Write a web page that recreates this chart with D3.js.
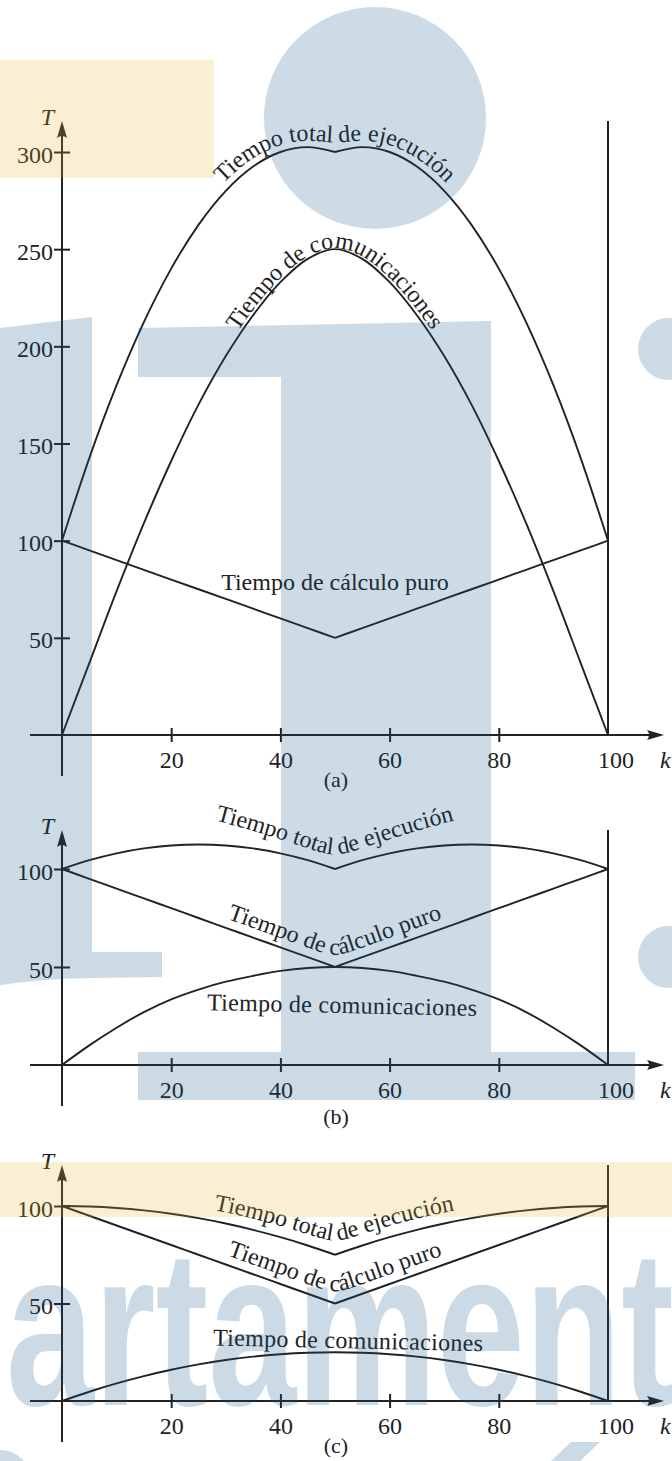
<!DOCTYPE html>
<html>
<head>
<meta charset="utf-8">
<script src="https://cdn.jsdelivr.net/npm/d3@7"></script>
<style>
  body { margin: 0; background: #fff; }
  svg { display: block; }
</style>
</head>
<body>
<div id="chart"></div>
<script>
var kValues = [0, 5, 10, 15, 20, 25, 30, 35, 40, 45, 50, 55, 60, 65, 70, 75, 80, 85, 90, 95, 100];

var calcA  = [100, 95, 90, 85, 80, 75, 70, 65, 60, 55, 50, 55, 60, 65, 70, 75, 80, 85, 90, 95, 100];
var commA  = [0, 37, 74, 109, 141, 170, 195, 216, 233, 245, 250, 245, 233, 216, 195, 170, 141, 109, 74, 37, 0];
var totalA = [100, 142.5, 180, 212.5, 240, 262.5, 280, 292.5, 300, 302.5, 300, 302.5, 300, 292.5, 280, 262.5, 240, 212.5, 180, 142.5, 100];

var calcB  = [100, 95, 90, 85, 80, 75, 70, 65, 60, 55, 50, 55, 60, 65, 70, 75, 80, 85, 90, 95, 100];
var commB  = [0, 10, 19, 27, 33.5, 38.5, 42.5, 45.5, 48, 49.5, 50, 49.5, 48, 45.5, 42.5, 38.5, 33.5, 27, 19, 10, 0];
var totalB = [100, 104.5, 108, 110.5, 112, 112.5, 112, 110.5, 108, 104.5, 100, 104.5, 108, 110.5, 112, 112.5, 112, 110.5, 108, 104.5, 100];

var calcC  = [100, 95, 90, 85, 80, 75, 70, 65, 60, 55, 50, 55, 60, 65, 70, 75, 80, 85, 90, 95, 100];
var commC  = [0, 4.75, 9, 12.75, 16, 18.75, 21, 22.75, 24, 24.75, 25, 24.75, 24, 22.75, 21, 18.75, 16, 12.75, 9, 4.75, 0];
var totalC = [100, 99.75, 99, 97.75, 96, 93.75, 91, 87.75, 84, 79.75, 75, 79.75, 84, 87.75, 91, 93.75, 96, 97.75, 99, 99.75, 100];

var yTicksA = [50, 100, 150, 200, 250, 300];
var yTicksB = [50, 100];
var yTicksC = [50, 100];
var xTicks = [20, 40, 60, 80];
var xLast = 100;

var labelTotal = "Tiempo total de ejecución";
var labelComm = "Tiempo de comunicaciones";
var labelCalc = "Tiempo de cálculo puro";

var width = 672, height = 1461;
var ink = "#222";
var serif = "'Liberation Serif', 'Times New Roman', serif";

var svg = d3.select("#chart").append("svg")
    .attr("width", width)
    .attr("height", height);
var defs = svg.append("defs");

var x = d3.scaleLinear().domain([0, 100]).range([62, 608]);

var panels = [
    {id: "a", calc: calcA, comm: commA, total: totalA, yMax: 300, range: [735, 152], top: 121, ticks: yTicksA, caption: "(a)", capY: 787},
    {id: "b", calc: calcB, comm: commB, total: totalB, yMax: 100, range: [1065, 869], top: 830, ticks: yTicksB, caption: "(b)", capY: 1124},
    {id: "c", calc: calcC, comm: commC, total: totalC, yMax: 100, range: [1401, 1206], top: 1165, ticks: yTicksC, caption: "(c)", capY: 1453}
];

function pairs(vals) {
    return kValues.map(function (k, i) { return [k, vals[i]]; });
}

// builds an offset guide path (in pixels) for a curved label
function guidePath(pts, off, id) {
    var tmp = svg.append("path").attr("d", d3.line().curve(d3.curveBasis)(pts)).attr("fill", "none");
    var node = tmp.node(), len = node.getTotalLength(), out = [];
    for (var s = 0; s <= len; s += 2) {
        var a = node.getPointAtLength(Math.max(0, s - 1)),
            b = node.getPointAtLength(Math.min(len, s + 1)),
            c = node.getPointAtLength(s);
        var dx = b.x - a.x, dy = b.y - a.y, n = Math.hypot(dx, dy) || 1;
        out.push([c.x + dy / n * off, c.y - dx / n * off]);
    }
    tmp.remove();
    defs.append("path").attr("id", id).attr("d", d3.line().curve(d3.curveBasis)(out));
}

function curveLabel(g, id, txt) {
    g.append("text")
        .attr("font-family", serif)
        .attr("font-size", 24)
        .attr("fill", ink)
        .attr("text-anchor", "middle")
        .append("textPath")
        .attr("href", "#" + id)
        .attr("startOffset", "50%")
        .text(txt);
}

panels.forEach(function (p) {
    var y = d3.scaleLinear().domain([0, p.yMax]).range(p.range);
    var y0 = y(0);
    var g = svg.append("g").attr("class", "panel-" + p.id);

    // axes lines + arrows
    g.append("line")
        .attr("x1", x(0)).attr("x2", x(0))
        .attr("y1", y0 + 41).attr("y2", p.top + 12)
        .attr("stroke", ink).attr("stroke-width", 2);
    g.append("path")
        .attr("d", "M" + x(0) + "," + p.top + " l5,17 q-5,-4 -10,0 z")
        .attr("fill", ink);
    g.append("line")
        .attr("x1", 30).attr("x2", 654)
        .attr("y1", y0).attr("y2", y0)
        .attr("stroke", ink).attr("stroke-width", 2);
    g.append("path")
        .attr("d", "M664," + y0 + " l-17,-5 q4,5 0,10 z")
        .attr("fill", ink);

    // vertical line at k = 100
    g.append("line")
        .attr("x1", x(100)).attr("x2", x(100))
        .attr("y1", y0).attr("y2", p.top)
        .attr("stroke", ink).attr("stroke-width", 2);

    // y ticks
    var yAxis = g.append("g")
        .attr("transform", "translate(" + x(0) + ",0)")
        .call(d3.axisLeft(y).tickValues(p.ticks).tickSize(8).tickPadding(1));
    yAxis.select(".domain").remove();
    yAxis.selectAll(".tick line").attr("x1", 8).attr("x2", -8).attr("stroke", ink).attr("stroke-width", 2);
    yAxis.selectAll(".tick text")
        .attr("font-family", serif).attr("font-size", 24).attr("fill", ink).attr("dy", "0.42em");

    // x ticks
    var xAxis = g.append("g")
        .attr("transform", "translate(0," + y0 + ")")
        .call(d3.axisBottom(x).tickValues(xTicks).tickSize(7).tickPadding(9));
    xAxis.select(".domain").remove();
    xAxis.selectAll(".tick line").attr("y1", -7).attr("y2", 7).attr("stroke", ink).attr("stroke-width", 2);
    xAxis.selectAll(".tick text")
        .attr("font-family", serif).attr("font-size", 24).attr("fill", ink);
    g.append("text")
        .attr("x", x(xLast) + 8).attr("y", y0 + 33)
        .attr("text-anchor", "middle")
        .attr("font-family", serif).attr("font-size", 24).attr("fill", ink)
        .text(xLast);

    // axis names
    g.append("text")
        .attr("x", 54).attr("y", p.top + 4)
        .attr("text-anchor", "end")
        .attr("font-family", serif).attr("font-style", "italic").attr("font-size", 24).attr("fill", ink)
        .text("T");
    g.append("text")
        .attr("x", 660).attr("y", y0 + 33)
        .attr("font-family", serif).attr("font-style", "italic").attr("font-size", 24).attr("fill", ink)
        .text("k");

    // caption
    g.append("text")
        .attr("x", 336).attr("y", p.capY)
        .attr("text-anchor", "middle")
        .attr("font-family", serif).attr("font-size", 22).attr("fill", ink)
        .text(p.caption);

    // series: calc and total have a corner at k = 50, comm is smooth
    var line = function (curve) {
        return d3.line()
            .x(function (d) { return x(d[0]); })
            .y(function (d) { return y(d[1]); })
            .curve(curve);
    };
    var halves = function (vals) {
        var pts = pairs(vals);
        return [pts.filter(function (d) { return d[0] <= 50; }), pts.filter(function (d) { return d[0] >= 50; })];
    };
    g.selectAll("path.series")
        .data(halves(p.calc).concat(halves(p.total)))
        .enter()
        .append("path")
        .attr("class", "series")
        .attr("d", line(d3.curveMonotoneX))
        .attr("fill", "none")
        .attr("stroke", ink)
        .attr("stroke-width", 1.9);
    g.append("path")
        .datum(pairs(p.comm))
        .attr("d", line(d3.curveCatmullRom))
        .attr("fill", "none")
        .attr("stroke", ink)
        .attr("stroke-width", 1.9);

    var px = function (vals) {
        return pairs(vals).map(function (d) { return [x(d[0]), y(d[1])]; });
    };

    // curve labels
    if (p.id === "a") {
        guidePath(px(p.total), 8, "gTotA");
        curveLabel(g, "gTotA", labelTotal);
        guidePath(px(p.comm), 4, "gComA");
        curveLabel(g, "gComA", labelComm);
        g.append("text")
            .attr("x", x(50)).attr("y", y(50) - 48)
            .attr("text-anchor", "middle")
            .attr("font-family", serif).attr("font-size", 24).attr("fill", ink)
            .text(labelCalc);
    } else {
        var totPts;
        if (p.id === "b") {
            totPts = pairs(p.total).map(function (d, i) {
                return [x(d[0]), 0.7 * y(p.calc[i]) + 0.3 * y(d[1]) - 80];
            });
            guidePath(totPts, 0, "gTot" + p.id);
        } else {
            guidePath(px(p.total), 11, "gTot" + p.id);
        }
        curveLabel(g, "gTot" + p.id, labelTotal);
        guidePath(px(p.calc), 9, "gCal" + p.id);
        curveLabel(g, "gCal" + p.id, labelCalc);
        var peak = d3.max(p.comm);
        var base = p.id === "b" ? y(peak) + 46 : y(peak) - 4;
        var cx = p.id === "b" ? x(50) + 7 : x(50) + 13;
        g.append("text")
            .attr("transform", "translate(" + cx + "," + base + ") rotate(1.2)")
            .attr("text-anchor", "middle")
            .attr("font-family", serif).attr("font-size", 24).attr("letter-spacing", 0.3).attr("fill", ink)
            .text(labelComm);
    }
});

// background print decoration, laid over the chart like a translucent ink
var deco = svg.append("g").attr("opacity", 0.21).style("pointer-events", "none");
var blue = "#13568a", yellow = "#e7b530";

deco.append("rect").attr("x", 0).attr("y", 60).attr("width", 214).attr("height", 118).attr("fill", yellow);
deco.append("rect").attr("x", 0).attr("y", 1162).attr("width", width).attr("height", 55).attr("fill", yellow);

deco.append("circle").attr("cx", 375).attr("cy", 118).attr("r", 111).attr("fill", blue);
deco.append("circle").attr("cx", 669).attr("cy", 349).attr("r", 31).attr("fill", blue);
deco.append("circle").attr("cx", 669).attr("cy", 957).attr("r", 31).attr("fill", blue);
deco.append("path")
    .attr("d", "M138,328 L491,321 L491,1052 L635,1052 L635,1100 L138,1100 L138,1052 L281,1052 L281,377 L138,377 Z")
    .attr("fill", blue);
deco.append("path")
    .attr("d", "M0,328 L92,317 L92,952 L162,952 L162,977 L92,978 Q40,979 0,985 Z")
    .attr("fill", blue);
deco.append("text")
    .attr("x", 6).attr("y", 1405)
    .attr("font-family", "'Liberation Sans', Arial, sans-serif")
    .attr("font-weight", "bold")
    .attr("font-size", 222)
    .attr("textLength", 668)
    .attr("lengthAdjust", "spacingAndGlyphs")
    .attr("fill", blue)
    .text("artament");
deco.append("ellipse").attr("cx", 0).attr("cy", 1478).attr("rx", 30).attr("ry", 28).attr("fill", blue);
deco.append("path").attr("d", "M571,1442 L600,1442 L580,1461 L551,1461 Z").attr("fill", blue);
</script>
</body>
</html>
